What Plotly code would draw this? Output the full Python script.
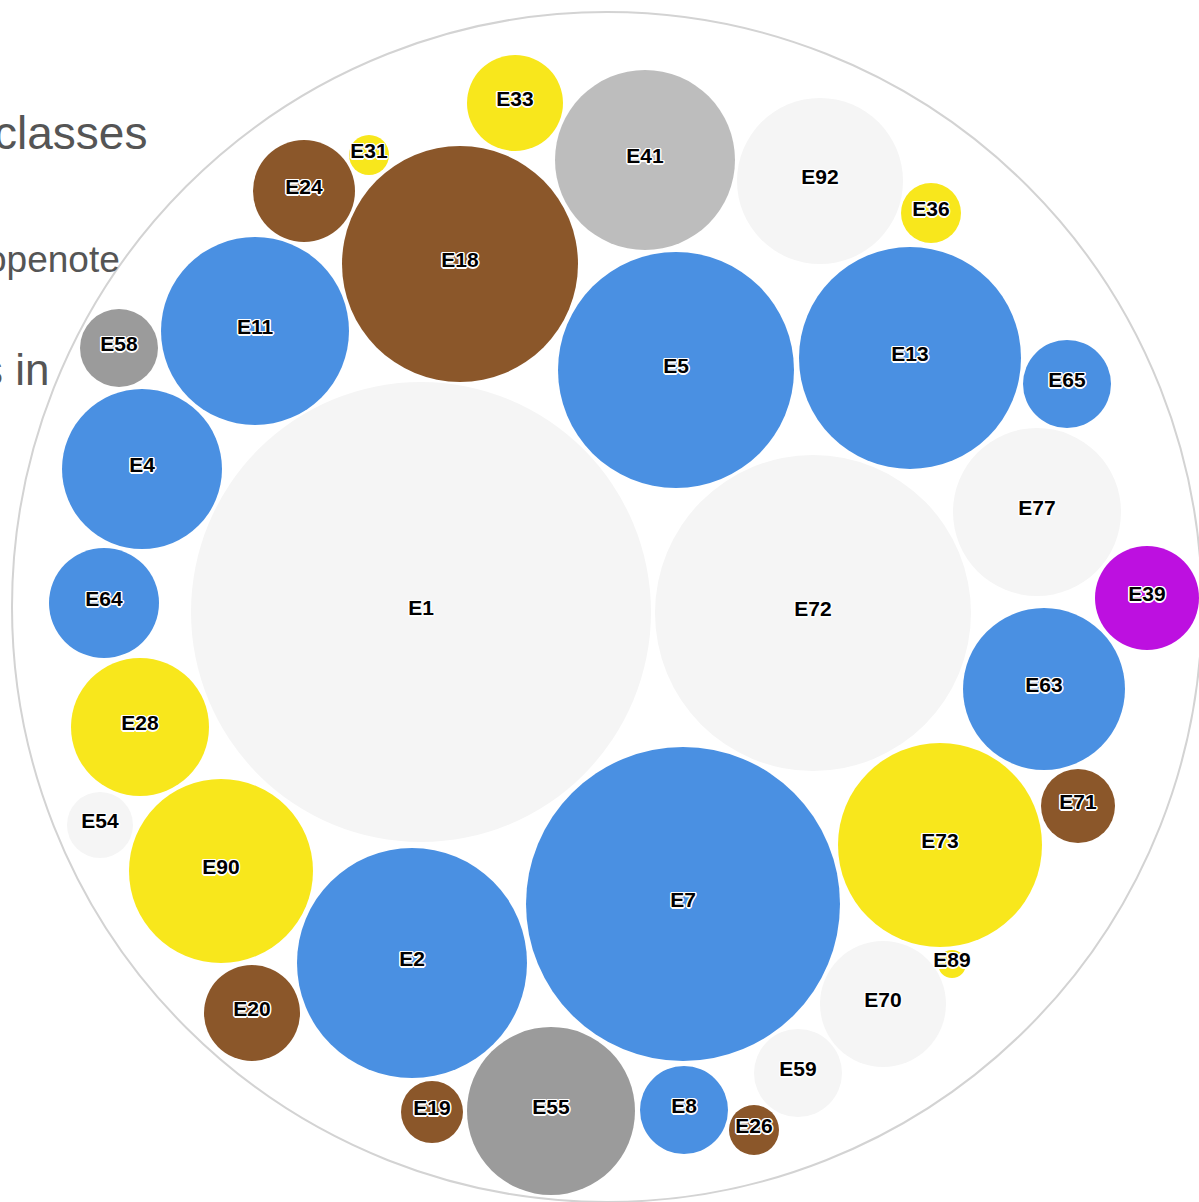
import plotly.graph_objects as go

# ---- data (pixel space of the packed layout) ----
labels = ["E1", "E72", "E7", "E18", "E5", "E13", "E2", "E73", "E41", "E90",
          "E11", "E55", "E92", "E77", "E4", "E63", "E28", "E70", "E64", "E39",
          "E24", "E20", "E33", "E65", "E8", "E59", "E58", "E71", "E54", "E19",
          "E36", "E26", "E31", "E89"]
cx = [421, 813, 683, 460, 676, 910, 412, 940, 645, 221,
      255, 551, 820, 1037, 142, 1044, 140, 883, 104, 1147,
      304, 252, 515, 1067, 684, 798, 119, 1078, 100, 432,
      931, 754, 369, 952]
cy = [612, 613, 904, 264, 370, 358, 963, 845, 160, 871,
      331, 1111, 181, 512, 469, 689, 727, 1004, 603, 598,
      191, 1013, 103, 384, 1110, 1073, 348, 806, 825, 1112,
      213, 1130, 155, 964]
radius = [230, 158, 157, 118, 118, 111, 115, 102, 90, 92,
          94, 84, 83, 84, 80, 81, 69, 63, 55, 52,
          51, 48, 48, 44, 44, 44, 39, 37, 33, 31,
          30, 25, 20, 14]
category = ["light", "light", "blue", "brown", "blue", "blue", "blue", "yellow", "silver", "yellow",
            "blue", "gray", "light", "light", "blue", "blue", "yellow", "light", "blue", "purple",
            "brown", "brown", "yellow", "blue", "blue", "light", "gray", "brown", "light", "brown",
            "yellow", "brown", "yellow", "yellow"]
palette = {"light": "#F5F5F5", "blue": "#4A90E2", "brown": "#8B572A", "yellow": "#F8E71C",
           "silver": "#BDBDBD", "gray": "#9B9B9B", "purple": "#BD10E0"}

outer_center = (607, 607)
outer_radius = 595

side_texts = ["classes", "openote", "s in"]
side_x = [149, 122, 51]
side_y = [133, 259, 369]
side_size = [46, 37, 44]

W, H = 1199, 1202

fig = go.Figure()

shapes = [dict(type="circle", xref="x", yref="y",
               x0=outer_center[0] - outer_radius, x1=outer_center[0] + outer_radius,
               y0=outer_center[1] - outer_radius, y1=outer_center[1] + outer_radius,
               line=dict(color="#D3D3D3", width=2), fillcolor="rgba(255,255,255,0)",
               layer="below")]
for x, y, r, c in zip(cx, cy, radius, category):
    shapes.append(dict(type="circle", xref="x", yref="y",
                       x0=x - r, x1=x + r, y0=y - r, y1=y + r,
                       line=dict(width=0), fillcolor=palette[c], layer="below"))

fig.add_trace(go.Scatter(
    x=cx, y=[v - 2 for v in cy], mode="text", text=labels,
    textposition="middle center",
    textfont=dict(family="Liberation Sans, Arial, sans-serif", size=21, color="#000000",
                  weight="bold",
                  shadow="1px 1px 0 #fff, -1px -1px 0 #fff, 1px -1px 0 #fff, -1px 1px 0 #fff, 0 1.5px 0 #fff, 0 -1.5px 0 #fff, 1.5px 0 0 #fff, -1.5px 0 0 #fff"),
    hoverinfo="skip", showlegend=False))

annotations = []
for t, x, y, s in zip(side_texts, side_x, side_y, side_size):
    annotations.append(dict(text=t, x=x, y=y, xref="x", yref="y", xanchor="right",
                            yanchor="middle", showarrow=False,
                            font=dict(family="Liberation Sans, Arial, sans-serif",
                                      size=s, color="#555555")))

fig.update_layout(
    width=W, height=H, margin=dict(l=0, r=0, t=0, b=0),
    paper_bgcolor="white", plot_bgcolor="white",
    xaxis=dict(range=[0, W], visible=False, fixedrange=True),
    yaxis=dict(range=[H, 0], visible=False, fixedrange=True),
    shapes=shapes, annotations=annotations, showlegend=False,
)

fig.write_html("out.html", config={"displayModeBar": False},
               post_script="document.body.style.margin='0';document.body.style.overflow='hidden';")
